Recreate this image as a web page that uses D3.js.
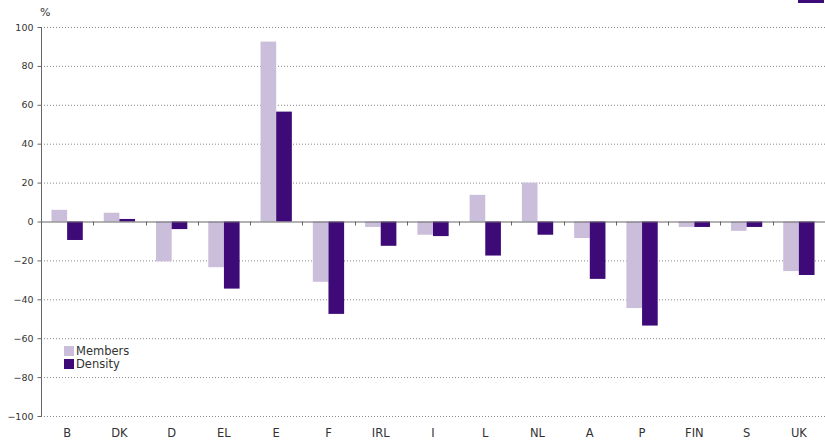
<!DOCTYPE html>
<html><head><meta charset="utf-8">
<script src="https://cdn.jsdelivr.net/npm/d3@7"></script>
<style>body{margin:0;background:#fff}svg{display:block}text{font-family:"DejaVu Sans",sans-serif}</style>
</head><body>
<svg id="c" width="825" height="441"></svg>
<script>
const categories = ["B","DK","D","EL","E","F","IRL","I","L","NL","A","P","FIN","S","UK"];
const members = [6, 4.5, -20.5, -23.5, 92.5, -31, -2.8, -6.8, 13.7, 20, -8.5, -44.5, -2.8, -4.8, -25.5];
const density = [-9.5, 1.3, -3.9, -34.5, 56.5, -47.5, -12.5, -7.5, -17.5, -6.8, -29.5, -53.5, -2.8, -2.8, -27.5];
const yTicks = [-100,-80,-60,-40,-20,0,20,40,60,80,100];
const seriesNames = ["Members","Density"];
const colors = ["#cbbedb","#3e0a77"];

const svg = d3.select("#c");
const x = d3.scaleBand().domain(categories).range([41, 825]).paddingInner(0).paddingOuter(0);
const sub = d3.scaleBand().domain(seriesNames).range([0, x.bandwidth()]).paddingInner(0).paddingOuter(0.67);
const y = d3.scaleLinear().domain([-100, 100]).range([416, 27]);

// gridlines
svg.append("g").selectAll("line").data(yTicks.filter(d=>d!==0)).join("line")
  .attr("x1", 41).attr("x2", 825).attr("y1", d=>y(d)+0.5).attr("y2", d=>y(d)+0.5)
  .attr("stroke", "#888").attr("stroke-width", 1).attr("stroke-dasharray", "1,2");

// bars
const data = [members, density];
data.forEach((vals, si) => {
  svg.append("g").selectAll("rect").data(vals).join("rect")
    .attr("x", (d,i)=>x(categories[i]) + sub(seriesNames[si]))
    .attr("width", sub.bandwidth())
    .attr("y", d=>y(Math.max(0,d)))
    .attr("height", d=>Math.abs(y(d)-y(0)))
    .attr("fill", colors[si]);
});

// y axis
const yAxis = d3.axisLeft(y).tickValues(yTicks).tickSize(4).tickPadding(4);
const gy = svg.append("g").attr("transform","translate(41.5,0)").call(yAxis);
gy.select(".domain").attr("stroke","#666").attr("d","M0,27V416.5");
gy.selectAll(".tick line").attr("stroke","#666");
gy.selectAll(".tick text").attr("fill","#333").style("font-size","9.5px");

// x axis at zero
const xAxis = d3.axisBottom(x).tickSize(0).tickValues([]);
const gx = svg.append("g").attr("transform",`translate(0,${y(0)+0.5})`).call(xAxis);
gx.select(".domain").attr("stroke","#666").attr("d","M41,0H825");
svg.append("g").selectAll("line").data(categories.slice(1)).join("line")
  .attr("x1", d=>Math.round(x(d))+0.5).attr("x2", d=>Math.round(x(d))+0.5)
  .attr("y1", y(0)).attr("y2", y(0)+4).attr("stroke","#666");

// category labels
svg.append("g").selectAll("text").data(categories).join("text")
  .attr("x", d=>x(d)+x.bandwidth()/2).attr("y", 437)
  .attr("text-anchor","middle").attr("fill","#333").style("font-size","11.5px").text(d=>d);

// unit
svg.append("text").attr("x", 40).attr("y", 16).attr("fill","#333").style("font-size","11px").text("%");

// legend
const leg = svg.append("g");
seriesNames.forEach((s,i)=>{
  leg.append("rect").attr("x", 64).attr("y", 346 + i*13).attr("width", 10).attr("height", 10).attr("fill", colors[i]);
  leg.append("text").attr("x", 76).attr("y", 355 + i*13).attr("fill","#333").style("font-size","11.5px").text(s);
});

// top-right fragment
svg.append("rect").attr("x", 798).attr("y", 0).attr("width", 26).attr("height", 3).attr("fill", colors[1]);
</script>
</body></html>
